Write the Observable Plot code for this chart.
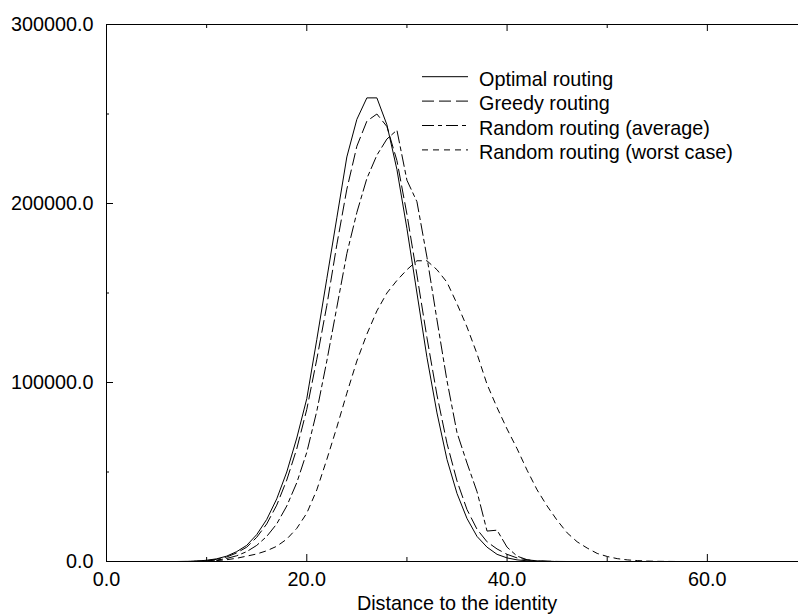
<!DOCTYPE html>
<html>
<head>
<meta charset="utf-8">
<script src="https://cdn.jsdelivr.net/npm/d3@7"></script>
<script src="https://cdn.jsdelivr.net/npm/@observablehq/plot@0.6"></script>
<style>
  html, body { margin: 0; padding: 0; background: #fff; overflow: hidden; }
  #chart svg { display: block; }
</style>
</head>
<body>
<div id="chart"></div>
<script>
// ---- data ----
const distance = [0,1,2,3,4,5,6,7,8,9,10,11,12,13,14,15,16,17,18,19,20,21,22,23,24,25,26,27,28,29,30,31,32,33,34,35,36,37,38,39,40,41,42,43,44,45,46,47,48,49,50,51,52,53,54,55,56,57,58,59,60];

const optimal = [0,0,0,0,0,0,0,0,50,200,700,1500,3000,5500,9000,15000,23500,35000,50000,69000,91000,124000,158000,192000,226000,247000,259000,259000,244000,219000,186000,150000,114000,83000,57000,38000,24000,14000,8000,4000,2000,900,400,150,50,0,0,0,0,0,0,0,0,0,0,0,0,0,0,0,0];

const greedy = [0,0,0,0,0,0,0,0,40,150,500,1200,2500,4800,8000,13500,21000,31500,45500,63000,85000,113000,143000,177000,208000,232000,246000,250000,243000,224000,194000,160000,125000,93000,66000,45000,29000,18000,11000,7000,4000,2000,900,400,150,50,0,0,0,0,0,0,0,0,0,0,0,0,0,0,0];

const randomAverage = [0,0,0,0,0,0,0,0,0,100,300,800,1700,3200,5500,9000,14000,21000,31000,44000,61000,84000,112000,142000,172000,195000,214000,227000,236000,241000,213000,201000,170000,135000,101000,72000,55000,39000,17000,17500,8000,3000,1000,300,100,0,0,0,0,0,0,0,0,0,0,0,0,0,0,0,0];

const randomWorst = [0,0,0,0,0,0,0,0,0,80,200,500,1000,1800,3000,4200,6000,8500,12500,18500,27000,40000,57000,75000,94000,112000,127000,140000,150000,157000,163000,168000,168000,163000,156000,144000,131000,116000,99000,86000,74000,63000,51000,40000,31000,23000,16000,11000,7500,4500,2800,1600,900,500,250,100,50,0,0,0,0];

const seriesNames = ["Optimal routing", "Greedy routing", "Random routing (average)", "Random routing (worst case)"];
const seriesValues = [optimal, greedy, randomAverage, randomWorst];
const seriesDash = ["none", "12,5", "12,4,4,4", "6,5"];

const xMajorTicks = [0, 20, 40, 60];
const xMinorTicks = [10, 30, 50];
const yMajorTicks = [0, 100000, 200000, 300000];
const yMinorTicks = [50000, 150000, 250000];
const xDomain = [0, 70];
const yDomain = [0, 300000];
const xTitle = "Distance to the identity";

// ---- tidy table ----
const rows = [];
seriesNames.forEach((name, s) => {
  distance.forEach((d, i) => rows.push({series: name, x: d, y: seriesValues[s][i]}));
});

const FONT = "'Liberation Sans', Arial, Helvetica, sans-serif";
const FS = 19.8;
const fmt = d => d.toFixed(1);

const lineMarks = seriesNames.map((name, s) =>
  Plot.line(rows.filter(r => r.series === name), {
    x: "x", y: "y", stroke: "black", strokeWidth: 1,
    strokeDasharray: seriesDash[s] === "none" ? null : seriesDash[s]
  })
);

const chart = Plot.plot({
  width: 798,
  height: 615,
  marginLeft: 106,
  marginRight: 0,
  marginTop: 24,
  marginBottom: 54,
  x: {domain: xDomain, range: [106, 807]},
  y: {domain: yDomain},
  axis: null,
  style: {fontFamily: FONT, fontSize: FS + "px", background: "white", color: "black", overflow: "hidden"},
  marks: [
    ...lineMarks,
    // frame lines
    Plot.ruleY([yDomain[0], yDomain[1]], {stroke: "black", strokeWidth: 1}),
    Plot.ruleX([xDomain[0]], {stroke: "black", strokeWidth: 1}),
    // x ticks (inward) bottom and top
    Plot.ruleX(xMajorTicks, {x: d => d, y1: () => yDomain[0], y2: () => yDomain[0], insetTop: -7, stroke: "black"}),
    Plot.ruleX(xMinorTicks, {x: d => d, y1: () => yDomain[0], y2: () => yDomain[0], insetTop: -4, stroke: "black"}),
    Plot.ruleX(xMajorTicks, {x: d => d, y1: () => yDomain[1], y2: () => yDomain[1], insetBottom: -7, stroke: "black"}),
    Plot.ruleX(xMinorTicks, {x: d => d, y1: () => yDomain[1], y2: () => yDomain[1], insetBottom: -4, stroke: "black"}),
    // y ticks (inward)
    Plot.ruleY(yMajorTicks, {y: d => d, x1: () => xDomain[0], x2: () => xDomain[0], insetRight: -7, stroke: "black"}),
    Plot.ruleY(yMinorTicks, {y: d => d, x1: () => xDomain[0], x2: () => xDomain[0], insetRight: -3, stroke: "black"}),
    // tick labels
    Plot.text(xMajorTicks, {x: d => d, frameAnchor: "bottom", lineAnchor: "top", dy: 10, text: fmt, fontSize: FS, fill: "black"}),
    Plot.text(yMajorTicks, {y: d => d, frameAnchor: "left", textAnchor: "end", lineAnchor: "middle", dx: -13, dy: 0.5, text: fmt, fontSize: FS, fill: "black"}),
    // axis title
    Plot.text([xTitle], {x: () => (xDomain[0] + xDomain[1]) / 2, frameAnchor: "bottom", lineAnchor: "top", dy: 34, text: d => d, fontSize: FS, fill: "black"})
  ]
});

// ---- legend drawn inside the plot area (top right) ----
const svg = d3.select(chart);
const lg = svg.append("g")
  .attr("font-family", FONT)
  .attr("font-size", FS)
  .attr("text-anchor", "start");
seriesNames.forEach((name, i) => {
  const yLine = 76.7 + 24.4 * i;
  lg.append("line")
    .attr("x1", 422).attr("x2", 468)
    .attr("y1", yLine).attr("y2", yLine)
    .attr("stroke", "black").attr("stroke-width", 1)
    .attr("stroke-dasharray", seriesDash[i] === "none" ? null : seriesDash[i]);
  lg.append("text")
    .attr("x", 479).attr("y", yLine + 9.2)
    .attr("text-anchor", "start")
    .attr("fill", "black")
    .text(name);
});

document.getElementById("chart").appendChild(chart);
</script>
</body>
</html>
